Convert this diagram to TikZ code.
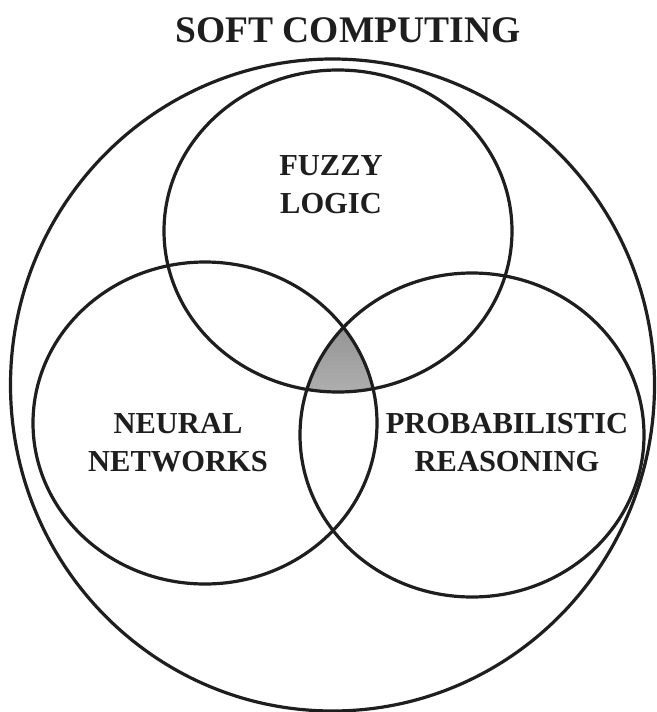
\documentclass[tikz,border=0pt]{standalone}
\usepackage{fontspec}
\setmainfont{Liberation Serif}
\definecolor{ink}{HTML}{1E1E1E}
\definecolor{shade}{HTML}{BDBDBD}
\tikzset{
  venn/.style={draw=ink, line width=3.2pt},
  lbl/.style={font=\bfseries\fontsize{30.5}{38}\selectfont, text=ink, align=center, inner sep=0pt},
  ttl/.style={font=\bfseries\fontsize{37.5}{42}\selectfont, text=ink, inner sep=0pt}
}
\begin{document}
\begin{tikzpicture}[x=1pt,y=-1pt]
\useasboundingbox (0,0) rectangle (656,712);
\fill[white] (0,0) rectangle (656,712);
% shaded triple intersection
\begin{scope}
  \clip (338,231) ellipse [x radius=174, y radius=161];
  \clip (205,423) ellipse [x radius=172, y radius=161];
  \fill[shade] (472,435) ellipse [x radius=172, y radius=162];
\end{scope}
% sets
\draw[venn] (332.5,385) ellipse [x radius=322, y radius=326];
\draw[venn] (338,231) ellipse [x radius=174, y radius=161];
\draw[venn] (205,423) ellipse [x radius=172, y radius=161];
\draw[venn] (472,435) ellipse [x radius=172, y radius=162];
% labels
\node[ttl] (title) at (348,30) {SOFT COMPUTING};
\node[lbl] (fuzzy) at (331,185) {FUZZY\\LOGIC};
\node[lbl] (neural) at (178,443) {NEURAL\\NETWORKS};
\node[lbl] (prob) at (507,443) {PROBABILISTIC\\REASONING};
\end{tikzpicture}
\end{document}
